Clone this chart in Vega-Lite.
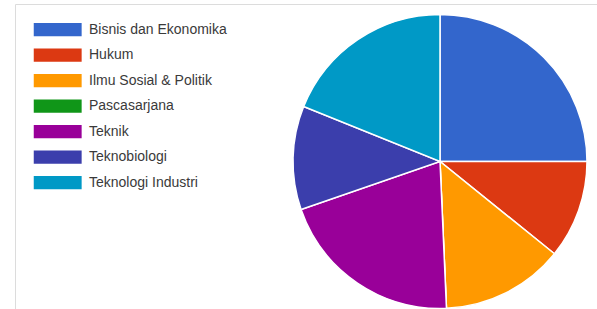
{
  "$schema": "https://vega.github.io/schema/vega-lite/v6.json",
  "width": 849,
  "height": 314,
  "autosize": {"type": "none"},
  "padding": {"left": 15.5, "top": 4.5, "right": 0, "bottom": 0},
  "background": "white",
  "config": {"view": {"stroke": null}},
  "layer": [
    {
      "data": {"values": [{"frame": 1}]},
      "mark": {"type": "rect", "fill": null, "stroke": "#dcdcdc", "strokeWidth": 1},
      "encoding": {}
    },
    {
      "data": {
        "values": [
          {"idx": 1, "faculty": "Bisnis dan Ekonomika", "share": 25.0},
          {"idx": 2, "faculty": "Hukum", "share": 10.8},
          {"idx": 3, "faculty": "Ilmu Sosial & Politik", "share": 13.5},
          {"idx": 4, "faculty": "Pascasarjana", "share": 0},
          {"idx": 5, "faculty": "Teknik", "share": 20.4},
          {"idx": 6, "faculty": "Teknobiologi", "share": 11.4},
          {"idx": 7, "faculty": "Teknologi Industri", "share": 18.9}
        ]
      },
      "mark": {"type": "arc", "outerRadius": 147, "stroke": "white", "strokeWidth": 1.5},
      "encoding": {
        "theta": {"field": "share", "type": "quantitative", "stack": true},
        "order": {"field": "idx", "type": "quantitative"},
        "color": {
          "field": "faculty",
          "type": "nominal",
          "scale": {
            "domain": ["Bisnis dan Ekonomika", "Hukum", "Ilmu Sosial & Politik", "Pascasarjana", "Teknik", "Teknobiologi", "Teknologi Industri"],
            "range": ["#3366cc", "#dc3912", "#ff9900", "#109618", "#990099", "#3b3eac", "#0099c6"]
          },
          "legend": {
            "title": null,
            "orient": "none",
            "legendX": 35.2,
            "legendY": 18.2,
            "padding": 0,
            "symbolType": "M-3.6,-1H3.6V1H-3.6Z",
            "symbolSize": 177,
            "symbolStrokeWidth": 0,
            "symbolOpacity": 1,
            "labelOffset": 24.3,
            "labelFont": "Liberation Sans",
            "labelFontSize": 14,
            "labelColor": "#3a3a3a",
            "rowPadding": 11.5,
            "labelLimit": 300
          }
        }
      }
    }
  ]
}
